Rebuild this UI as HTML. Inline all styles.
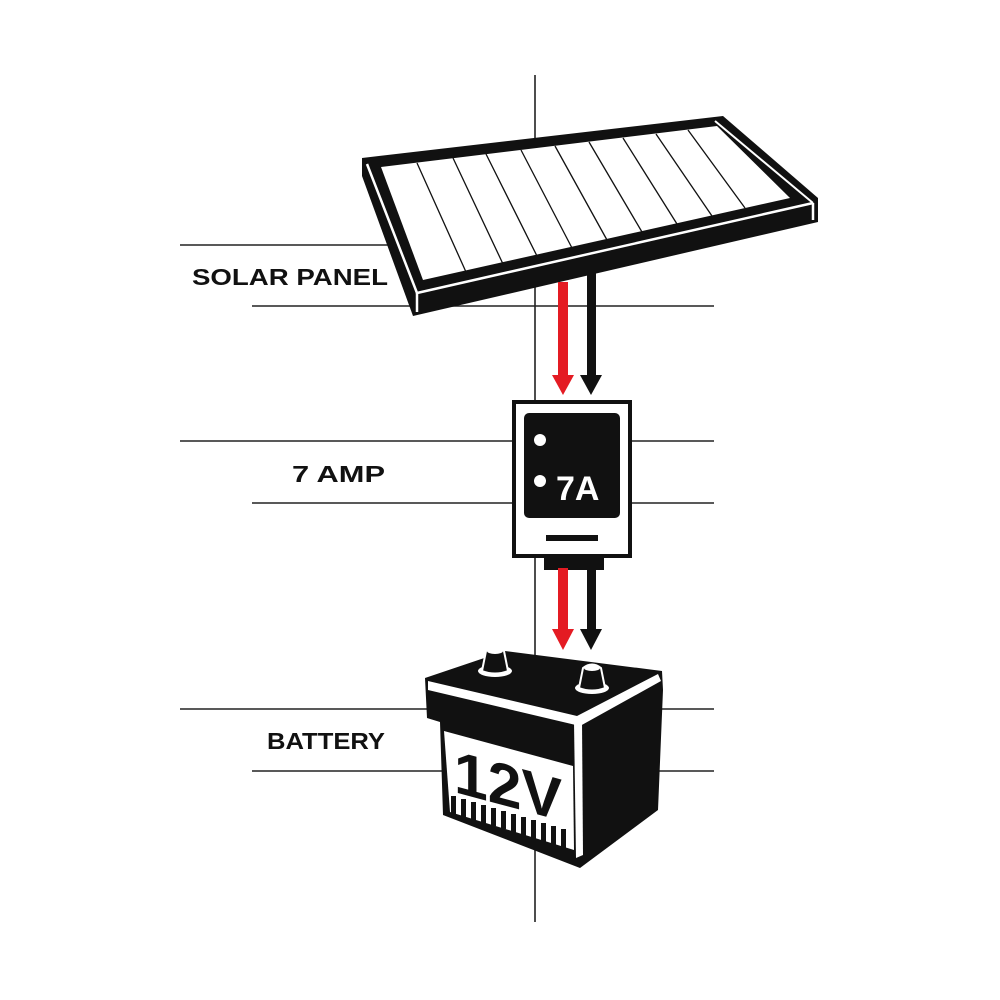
<!DOCTYPE html>
<html><head><meta charset="utf-8"><style>
html,body{margin:0;padding:0;background:#fff;}
svg{display:block;}
text{font-family:"Liberation Sans","DejaVu Sans",sans-serif;font-weight:bold;}
</style></head><body>
<svg width="1000" height="1000" viewBox="0 0 1000 1000" xmlns="http://www.w3.org/2000/svg">
<rect width="1000" height="1000" fill="#fff"/>
<g stroke="#222" stroke-width="1.6" fill="none">
<line x1="535" y1="75" x2="535" y2="922"/>
<line x1="180" y1="245" x2="410" y2="245"/>
<line x1="252" y1="306" x2="714" y2="306"/>
<line x1="180" y1="441" x2="714" y2="441"/>
<line x1="252" y1="503" x2="714" y2="503"/>
<line x1="180" y1="709" x2="714" y2="709"/>
<line x1="252" y1="771" x2="714" y2="771"/>
</g>
<text x="192" y="285" font-size="23" fill="#111" textLength="196" lengthAdjust="spacingAndGlyphs">SOLAR PANEL</text>
<text x="292" y="482" font-size="23" fill="#111" textLength="93" lengthAdjust="spacingAndGlyphs">7 AMP</text>
<text x="267" y="749" font-size="23" fill="#111" textLength="118" lengthAdjust="spacingAndGlyphs">BATTERY</text>

<!-- solar panel -->
<polygon points="362,158 723,116 818,198 818,222 413,316 362,176" fill="#111"/>
<polygon points="381,167 717,126 790,198 423,280" fill="#fff"/>
<polyline points="367,164 417,293 813,203" fill="none" stroke="#fff" stroke-width="2.5"/>
<line x1="417" y1="293" x2="417" y2="312" stroke="#fff" stroke-width="2.5"/>
<line x1="813" y1="203" x2="813" y2="220" stroke="#fff" stroke-width="2.5"/>
<line x1="715" y1="121" x2="813" y2="203" stroke="#fff" stroke-width="2"/>
<g stroke="#111" stroke-width="1.3">
<line x1="417" y1="163" x2="466" y2="272"/>
<line x1="453" y1="158" x2="503" y2="264"/>
<line x1="486" y1="154" x2="537" y2="256"/>
<line x1="521" y1="150" x2="572" y2="248"/>
<line x1="555" y1="146" x2="607" y2="240"/>
<line x1="589" y1="142" x2="642" y2="232"/>
<line x1="623" y1="138" x2="677" y2="224"/>
<line x1="656" y1="134" x2="712" y2="216"/>
<line x1="688" y1="130" x2="745" y2="208"/>
</g>

<!-- wires top -->
<rect x="558" y="282" width="10" height="96" fill="#e41b23"/>
<polygon points="552,375 574,375 563,395" fill="#e41b23"/>
<rect x="587" y="272" width="9" height="106" fill="#111"/>
<polygon points="580,375 602,375 591,395" fill="#111"/>

<!-- controller -->
<rect x="514" y="402" width="116" height="154" fill="#fff" stroke="#111" stroke-width="4"/>
<rect x="524" y="413" width="96" height="105" rx="5" fill="#111"/>
<circle cx="540" cy="440" r="6" fill="#fff"/>
<circle cx="540" cy="481" r="6" fill="#fff"/>
<text x="556" y="500" font-size="34" fill="#fff">7A</text>
<rect x="546" y="535" width="52" height="6" fill="#111"/>
<rect x="544" y="556" width="60" height="14" fill="#111"/>

<!-- wires bottom -->
<rect x="558" y="568" width="10" height="64" fill="#e41b23"/>
<polygon points="552,629 574,629 563,650" fill="#e41b23"/>
<rect x="587" y="568" width="9" height="64" fill="#111"/>
<polygon points="580,629 602,629 591,650" fill="#111"/>

<!-- battery -->
<polygon points="425,678 505,651 662,671 663,690 658,810 580,868 443,815 440,722 427,718" fill="#111"/>
<polygon points="428,681 577,716 658,674 661,681 580,726 428,690" fill="#fff"/>
<polygon points="574,722 582,720 583,855 576,858" fill="#fff"/>
<polygon points="444,731 573,766 574,850 450,812" fill="#fff"/>
<text x="0" y="0" font-size="60" fill="#111" transform="translate(454,792) skewY(15)" textLength="108" lengthAdjust="spacingAndGlyphs">12V</text>
<g fill="#111">
<rect x="451" y="796" width="5" height="18"/>
<rect x="461" y="799" width="5" height="18"/>
<rect x="471" y="802" width="5" height="18"/>
<rect x="481" y="805" width="5" height="18"/>
<rect x="491" y="808" width="5" height="18"/>
<rect x="501" y="811" width="5" height="18"/>
<rect x="511" y="814" width="5" height="20"/>
<rect x="521" y="817" width="5" height="20"/>
<rect x="531" y="820" width="5" height="20"/>
<rect x="541" y="823" width="5" height="22"/>
<rect x="551" y="826" width="5" height="22"/>
<rect x="561" y="829" width="5" height="24"/>
</g>
<!-- terminals -->
<ellipse cx="495" cy="671" rx="17" ry="6" fill="#fff"/>
<path d="M482,671 L486,651 Q495,644 504,651 L508,671 Q495,676 482,671Z" fill="#111" stroke="#fff" stroke-width="2"/>
<ellipse cx="495" cy="651" rx="8" ry="3" fill="#fff"/>
<ellipse cx="592" cy="688" rx="17" ry="6" fill="#fff"/>
<path d="M579,688 L583,668 Q592,661 601,668 L605,688 Q592,693 579,688Z" fill="#111" stroke="#fff" stroke-width="2"/>
<ellipse cx="592" cy="668" rx="8" ry="3" fill="#fff"/>
</svg>
</body></html>
